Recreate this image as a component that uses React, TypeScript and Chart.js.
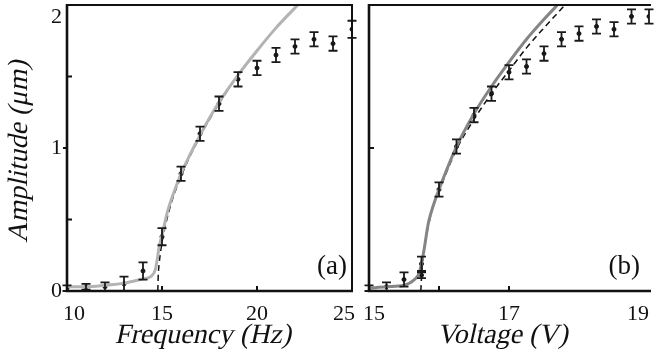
import React, { useEffect, useRef } from "react";
import { Chart, registerables } from "chart.js";

Chart.register(...registerables);

const FONT = '"Liberation Serif"';

// ---------- Panel (a): frequency sweep ----------
const freqX = [10, 11, 12, 13, 14, 15, 16, 17, 18, 19, 20, 21, 22, 23, 24, 25];
const freqAmp = [0.02, 0.03, 0.03, 0.05, 0.14, 0.38, 0.82, 1.1, 1.31, 1.48, 1.56, 1.65, 1.71, 1.76, 1.73, 1.83];
const freqErr = [0.02, 0.02, 0.03, 0.05, 0.06, 0.06, 0.05, 0.05, 0.05, 0.05, 0.05, 0.05, 0.05, 0.05, 0.05, 0.06];

const freqTheoryX = [10, 11, 12, 13, 14, 14.4, 14.65, 14.75, 14.85, 15, 15.3, 15.6, 16, 16.5, 17, 17.5, 18, 19, 20, 21, 22, 22.3];
const freqTheoryY = [0.03, 0.03, 0.04, 0.055, 0.085, 0.1, 0.15, 0.22, 0.31, 0.39, 0.56, 0.68, 0.82, 0.96, 1.09, 1.21, 1.32, 1.51, 1.68, 1.84, 1.98, 2.02];
const freqFitX = [14.78, 14.8, 14.85, 14.9, 15, 15.2, 15.5, 16, 16.5, 17, 17.5, 18, 19, 20, 21, 22, 22.3];
const freqFitY = [0, 0.1, 0.19, 0.25, 0.34, 0.47, 0.62, 0.8, 0.95, 1.08, 1.2, 1.31, 1.51, 1.68, 1.84, 1.98, 2.02];

// ---------- Panel (b): voltage sweep ----------
const voltX = [15.0, 15.25, 15.5, 15.75, 15.75, 16.0, 16.25, 16.5, 16.75, 17.0, 17.25, 17.5, 17.75, 18.0, 18.25, 18.5, 18.75, 19.0];
const voltAmp = [0.02, 0.03, 0.08, 0.19, 0.11, 0.71, 1.01, 1.23, 1.38, 1.53, 1.57, 1.66, 1.76, 1.8, 1.85, 1.83, 1.92, 1.92];
const voltErr = [0.02, 0.03, 0.05, 0.05, 0.02, 0.05, 0.05, 0.05, 0.05, 0.05, 0.05, 0.05, 0.05, 0.05, 0.05, 0.05, 0.05, 0.05];

const voltTheoryX = [15, 15.25, 15.5, 15.65, 15.72, 15.78, 15.85, 15.92, 16, 16.25, 16.5, 16.75, 17, 17.25, 17.5, 17.75];
const voltTheoryY = [0.02, 0.03, 0.04, 0.08, 0.13, 0.27, 0.48, 0.6, 0.71, 1.01, 1.24, 1.43, 1.6, 1.76, 1.9, 2.03];
const voltFitX = [15.74, 15.76, 15.8, 15.85, 15.92, 16, 16.25, 16.5, 16.75, 17, 17.25, 17.5, 17.8];
const voltFitY = [0, 0.17, 0.33, 0.46, 0.6, 0.7, 0.99, 1.2, 1.38, 1.54, 1.7, 1.84, 2.0];

// ---------- Ticks ----------
const freqTickVals = [10, 15, 20, 25];
const freqTickLabels = ["10", "15", "20", "25"];
const freqInnerTicks = [15, 20];
const voltTickVals = [15, 17, 19];
const voltTickLabels = ["15", "17", "19"];
const voltInnerTicks = [16, 17];
const ampTickVals = [0, 1, 2];
const ampTickLabels = ["0", "1", "2"];
const ampInnerTicksA = [0.5, 1.5];
const ampOuterTicksA = [1];
const ampInnerTicksB = [1];
const ampOuterTicksB: number[] = [];

const zip = (xs: number[], ys: number[]) => xs.map((x, i) => ({ x, y: ys[i] }));

function slantText(ctx: CanvasRenderingContext2D, text: string, x: number, y: number, rotate: number) {
  ctx.save();
  ctx.translate(x, y);
  if (rotate) ctx.rotate(rotate);
  ctx.transform(1, 0, -0.22, 1, 0, 0);
  ctx.fillText(text, 0, 0);
  ctx.restore();
}

const panelPlugin = {
  id: "panel",
  afterDatasetsDraw(chart: any, _a: any, o: any) {
    const ctx = chart.ctx;
    const xs = chart.scales.x;
    const ys = chart.scales.y;
    const ca = chart.chartArea;
    ctx.save();
    ctx.beginPath();
    ctx.rect(ca.left - 6, ca.top - 2, ca.right - ca.left + 12, ca.bottom - ca.top + 4);
    ctx.clip();
    ctx.strokeStyle = "#1a1a1a";
    ctx.lineWidth = 1.8;
    o.ex.forEach((xv: number, i: number) => {
      const px = xs.getPixelForValue(xv);
      const y1 = ys.getPixelForValue(o.ey[i] - o.ee[i]);
      const y2 = ys.getPixelForValue(o.ey[i] + o.ee[i]);
      ctx.beginPath();
      ctx.moveTo(px, y1);
      ctx.lineTo(px, y2);
      ctx.moveTo(px - 4.5, y1);
      ctx.lineTo(px + 4.5, y1);
      ctx.moveTo(px - 4.5, y2);
      ctx.lineTo(px + 4.5, y2);
      ctx.stroke();
    });
    ctx.restore();
  },
  afterDraw(chart: any, _a: any, o: any) {
    const ctx = chart.ctx;
    const xs = chart.scales.x;
    const ys = chart.scales.y;
    const ca = chart.chartArea;
    ctx.save();
    ctx.strokeStyle = "#111";
    ctx.fillStyle = "#111";
    // frame
    ctx.lineWidth = 2;
    ctx.beginPath();
    ctx.moveTo(ca.left, ca.top);
    ctx.lineTo(o.boxRight ? ca.right : ca.right + 2, ca.top);
    if (o.boxRight) ctx.lineTo(ca.right, ca.bottom);
    ctx.stroke();
    ctx.lineWidth = 2.6;
    ctx.beginPath();
    ctx.moveTo(ca.left, ca.top - 1);
    ctx.lineTo(ca.left, ca.bottom);
    ctx.lineTo(ca.right + (o.boxRight ? 1 : 2), ca.bottom);
    ctx.stroke();
    // ticks
    ctx.lineWidth = 2;
    ctx.beginPath();
    o.xInner.forEach((v: number) => {
      const px = xs.getPixelForValue(v);
      ctx.moveTo(px, ca.bottom);
      ctx.lineTo(px, ca.bottom - 5);
    });
    o.yInner.forEach((v: number) => {
      const py = ys.getPixelForValue(v);
      ctx.moveTo(ca.left, py);
      ctx.lineTo(ca.left + 5, py);
    });
    o.yOuter.forEach((v: number) => {
      const py = ys.getPixelForValue(v);
      ctx.moveTo(ca.left, py);
      ctx.lineTo(ca.left - 4, py);
    });
    ctx.stroke();
    // x tick labels
    ctx.font = `22px ${FONT}`;
    ctx.textBaseline = "middle";
    const nx = o.xTicks.length;
    o.xTicks.forEach((v: number, i: number) => {
      const px = xs.getPixelForValue(v);
      if (i === 0) {
        ctx.textAlign = "left";
        ctx.fillText(o.xLabels[i], px - o.firstShift, ca.bottom + 23);
      } else if (i === nx - 1) {
        ctx.textAlign = "right";
        ctx.fillText(o.xLabels[i], px + o.lastShift, ca.bottom + 23);
      } else {
        ctx.textAlign = "center";
        ctx.fillText(o.xLabels[i], px, ca.bottom + 23);
      }
    });
    // y tick labels
    if (o.yLabels) {
      ctx.textAlign = "right";
      o.yTicks.forEach((v: number, i: number) => {
        const py = ys.getPixelForValue(v);
        if (i === o.yTicks.length - 1) {
          ctx.textBaseline = "top";
          ctx.fillText(o.yLabels[i], ca.left - 5, py + 1);
        } else {
          ctx.textBaseline = "middle";
          ctx.fillText(o.yLabels[i], ca.left - 5, py);
        }
      });
    }
    // titles (slanted serif)
    ctx.font = `28px ${FONT}`;
    ctx.textAlign = "center";
    ctx.textBaseline = "middle";
    slantText(ctx, o.xTitle, (ca.left + ca.right) / 2 - 5, ca.bottom + 45, 0);
    if (o.yTitle) {
      slantText(ctx, o.yTitle, 20, (ca.top + ca.bottom) / 2 + 2, -Math.PI / 2);
    }
    // panel label
    ctx.font = `27px ${FONT}`;
    ctx.textAlign = "right";
    ctx.textBaseline = "alphabetic";
    ctx.fillText(o.tag, ca.right - o.tagInset, ca.bottom - 17);
    ctx.restore();
  },
};

function buildConfig(p: any): any {
  return {
    type: "scatter",
    data: {
      datasets: [
        {
          type: "line",
          data: zip(p.tx, p.ty),
          borderColor: p.theoryColor,
          borderWidth: 3,
          pointRadius: 0,
          cubicInterpolationMode: "monotone",
          fill: false,
        },
        {
          type: "line",
          data: zip(p.fx, p.fy),
          borderColor: "#111",
          borderWidth: 1.5,
          borderDash: [6, 4],
          pointRadius: 0,
          cubicInterpolationMode: "monotone",
          fill: false,
        },
        {
          type: "scatter",
          data: zip(p.dx, p.dy),
          backgroundColor: "#111",
          borderColor: "#111",
          pointRadius: 2,
          pointStyle: "circle",
        },
      ],
    },
    options: {
      responsive: false,
      animation: false,
      devicePixelRatio: 1,
      events: [],
      layout: { padding: { top: 5, right: p.padRight, left: 0, bottom: 0 } },
      plugins: {
        legend: { display: false },
        tooltip: { enabled: false },
        panel: {
          ex: p.dx,
          ey: p.dy,
          ee: p.de,
          xTicks: p.xTicks,
          xLabels: p.xLabels,
          xInner: p.xInner,
          yTicks: ampTickVals,
          yLabels: p.showY ? ampTickLabels : null,
          yInner: p.yInner,
          yOuter: p.yOuter,
          xTitle: p.xTitle,
          yTitle: p.showY ? "Amplitude (\u03BCm)" : null,
          tag: p.tag,
          tagInset: p.tagInset,
          boxRight: p.boxRight,
          firstShift: p.firstShift,
          lastShift: p.lastShift,
        },
      },
      scales: {
        x: {
          type: "linear",
          min: p.xmin,
          max: p.xmax,
          grid: { display: false },
          border: { display: false },
          ticks: { display: false },
          afterFit: (s: any) => {
            s.height = 71;
          },
        },
        y: {
          type: "linear",
          min: 0,
          max: 2,
          grid: { display: false },
          border: { display: false },
          ticks: { display: false },
          afterFit: (s: any) => {
            s.width = p.yWidth;
          },
        },
      },
    },
    plugins: [panelPlugin],
  };
}

export default function App() {
  const refA = useRef<HTMLCanvasElement>(null);
  const refB = useRef<HTMLCanvasElement>(null);

  useEffect(() => {
    const a = new Chart(
      refA.current as HTMLCanvasElement,
      buildConfig({
        tx: freqTheoryX,
        ty: freqTheoryY,
        fx: freqFitX,
        fy: freqFitY,
        dx: freqX,
        dy: freqAmp,
        de: freqErr,
        theoryColor: "#b3b3b3",
        xmin: 10,
        xmax: 25,
        xTicks: freqTickVals,
        xLabels: freqTickLabels,
        xInner: freqInnerTicks,
        yInner: ampInnerTicksA,
        yOuter: ampOuterTicksA,
        showY: true,
        xTitle: "Frequency (Hz)",
        tag: "(a)",
        tagInset: 5,
        boxRight: true,
        padRight: 302,
        yWidth: 67,
        firstShift: 4,
        lastShift: 3,
      })
    );
    const b = new Chart(
      refB.current as HTMLCanvasElement,
      buildConfig({
        tx: voltTheoryX,
        ty: voltTheoryY,
        fx: voltFitX,
        fy: voltFitY,
        dx: voltX,
        dy: voltAmp,
        de: voltErr,
        theoryColor: "#858585",
        xmin: 15,
        xmax: 19,
        xTicks: voltTickVals,
        xLabels: voltTickLabels,
        xInner: voltInnerTicks,
        yInner: ampInnerTicksB,
        yOuter: ampOuterTicksB,
        showY: false,
        xTitle: "Voltage (V)",
        tag: "(b)",
        tagInset: 9,
        boxRight: false,
        padRight: 0,
        yWidth: 369,
        firstShift: 6,
        lastShift: 0,
      })
    );
    return () => {
      a.destroy();
      b.destroy();
    };
  }, []);

  const cs: React.CSSProperties = { position: "absolute", left: 0, top: 0, width: 654, height: 362 };
  return (
    <div style={{ position: "fixed", left: 0, top: 0, width: 654, height: 362, background: "#fff" }}>
      <canvas ref={refA} width={654} height={362} style={cs} />
      <canvas ref={refB} width={654} height={362} style={cs} />
    </div>
  );
}
